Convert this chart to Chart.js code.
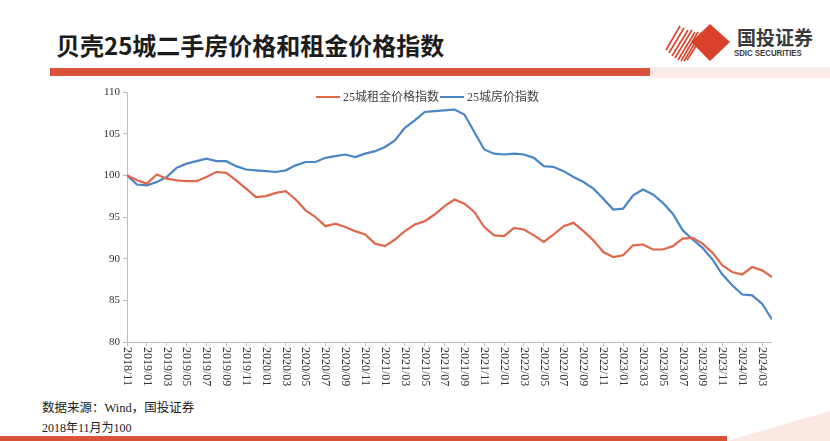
<!DOCTYPE html>
<html lang="zh">
  <head>
    <meta charset="UTF-8" />
    <title>贝壳25城二手房价格和租金价格指数</title>
    <script src="https://cdn.jsdelivr.net/npm/chart.js"></script>
    <style>
      body {
        margin: 0;
        width: 830px;
        height: 441px;
        overflow: hidden;
        background: #fff;
        position: relative;
        font-family: "Liberation Serif", "Noto Sans CJK SC", serif;
      }
      .title {
        position: absolute;
        left: 56px;
        top: 33px;
        font: 700 24px/24px "Noto Sans CJK SC";
        color: #1c1c1c;
        white-space: nowrap;
      }
      .bar {
        position: absolute;
        left: 50px;
        top: 68px;
        width: 600px;
        height: 8px;
        background: #d9533b;
      }
      .bar2 {
        position: absolute;
        left: 650px;
        top: 67px;
        width: 180px;
        height: 11px;
        background: #fbebe6;
      }
      .logo-cn {
        position: absolute;
        left: 737px;
        top: 27px;
        font: 700 19px/20px "Noto Sans CJK SC";
        color: #3a3a3a;
        letter-spacing: 0px;
      }
      .logo-en {
        position: absolute;
        left: 734px;
        top: 48px;
        font: 700 8.5px/10px "Liberation Sans Narrow", "Liberation Sans", sans-serif;
        color: #3a3a3a;
        transform: scaleX(0.92);
        transform-origin: left;
        white-space: nowrap;
      }
      .chart-box {
        position: absolute;
        left: 60px;
        top: 82px;
        width: 712px;
        height: 315px;
      }
      .legend {
        position: absolute;
        top: 89px;
        font-size: 12px;
        line-height: 16px;
        color: #404040;
        white-space: nowrap;
      }
      .legend i {
        display: inline-block;
        width: 24px;
        height: 2px;
        vertical-align: middle;
        margin-right: 3px;
        position: relative;
        top: -1px;
      }
      .note {
        position: absolute;
        left: 42px;
        font-size: 12px;
        line-height: 16px;
        color: #222;
        white-space: nowrap;
      }
      .foot {
        position: absolute;
        left: 0;
        top: 436px;
        width: 727px;
        height: 5px;
        background: #d9533b;
      }
    </style>
  </head>
  <body>
    <div class="title">贝壳25城二手房价格和租金价格指数</div>
    <div class="bar"></div>
    <div class="bar2"></div>

    <svg style="position: absolute; left: 660px; top: 20px" width="75" height="44">
      <g stroke="#d9412b" stroke-width="1.6">
        <line x1="6" y1="30" x2="20" y2="6" />
        <line x1="9" y1="33" x2="24" y2="8" />
        <line x1="12" y1="36" x2="28" y2="10" />
        <line x1="15" y1="38" x2="32" y2="10" />
        <line x1="18" y1="40" x2="35" y2="12" />
        <line x1="21" y1="41" x2="38" y2="12" />
        <line x1="24" y1="41" x2="41" y2="13" />
        <line x1="27" y1="40" x2="43" y2="15" />
      </g>
      <polygon points="50,4 70,22 50,41 31,22" fill="#d9412b" />
    </svg>
    <div class="logo-cn">国投证券</div>
    <div class="logo-en">SDIC SECURITIES</div>

    <div class="chart-box"><canvas id="myChart"></canvas></div>

    <div class="legend" style="left: 316px"><i style="background: #e0674a"></i>25城租金价格指数</div>
    <div class="legend" style="left: 440px"><i style="background: #4a85c8"></i>25城房价指数</div>

    <div class="note" style="top: 400px; font-size: 12.5px">数据来源：Wind，国投证券</div>
    <div class="note" style="top: 420px">2018年11月为100</div>

    <div class="foot"></div>
    <svg style="position: absolute; left: 700px; top: 405px" width="130" height="36">
      <polygon points="27,36 130,6 130,36" fill="#fbe8e2" />
    </svg>

    <script>
      // 2018/11 ~ 2024/04 月度
      const tickLabels = [
        "2018/11", "2019/01", "2019/03", "2019/05", "2019/07", "2019/09", "2019/11",
        "2020/01", "2020/03", "2020/05", "2020/07", "2020/09", "2020/11",
        "2021/01", "2021/03", "2021/05", "2021/07", "2021/09", "2021/11",
        "2022/01", "2022/03", "2022/05", "2022/07", "2022/09", "2022/11",
        "2023/01", "2023/03", "2023/05", "2023/07", "2023/09", "2023/11",
        "2024/01", "2024/03",
      ];
      // 25城租金价格指数
      const rentIndex = [
        100.0, 99.4, 99.0, 100.1, 99.6, 99.4, 99.3, 99.3, 99.8, 100.4, 100.3, 99.4,
        98.4, 97.4, 97.5, 97.9, 98.1, 97.1, 95.8, 95.0, 93.9, 94.2, 93.8, 93.3,
        92.9, 91.8, 91.5, 92.3, 93.3, 94.1, 94.5, 95.3, 96.3, 97.1, 96.6, 95.6,
        93.8, 92.8, 92.7, 93.7, 93.5, 92.8, 92.0, 92.9, 93.9, 94.3, 93.3, 92.2,
        90.8, 90.2, 90.4, 91.6, 91.7, 91.1, 91.1, 91.5, 92.4, 92.5, 91.8, 90.7,
        89.2, 88.4, 88.1, 89.0, 88.6, 87.8,
      ];
      // 25城房价指数
      const houseIndex = [
        100.0, 98.9, 98.8, 99.2, 99.8, 100.9, 101.4, 101.7, 102.0, 101.7, 101.7, 101.1,
        100.7, 100.6, 100.5, 100.4, 100.6, 101.2, 101.6, 101.6, 102.1, 102.3, 102.5, 102.2,
        102.6, 102.9, 103.4, 104.2, 105.7, 106.6, 107.6, 107.7, 107.8, 107.9, 107.3, 105.2,
        103.1, 102.6, 102.5, 102.6, 102.5, 102.1, 101.1, 101.0, 100.5, 99.8, 99.2, 98.4,
        97.2, 95.9, 96.0, 97.6, 98.3, 97.7, 96.7, 95.4, 93.4, 92.3, 91.3, 89.9,
        88.1, 86.8, 85.7, 85.6, 84.6, 82.7,
      ];

      const axisColor = "#bfbfbf";

      // x轴标签顺时针旋转（从上往下读）
      const xLabels = {
        id: "xLabels",
        afterDraw(chart) {
          const sx = chart.scales.x;
          const ctx = chart.ctx;
          ctx.save();
          ctx.font = '12px "Liberation Serif"';
          ctx.fillStyle = "#333";
          ctx.textAlign = "left";
          ctx.textBaseline = "middle";
          tickLabels.forEach(function (t, k) {
            const x = sx.getPixelForValue(k * 2);
            ctx.save();
            ctx.translate(x, sx.top + 5);
            ctx.rotate(Math.PI / 2);
            ctx.fillText(t, 0, 0);
            ctx.restore();
          });
          ctx.restore();
        },
      };

      const toPoints = function (arr) {
        return arr.map(function (v, i) {
          return { x: i, y: v };
        });
      };

      new Chart(document.querySelector("#myChart"), {
        type: "line",
        data: {
          datasets: [
            {
              label: "25城租金价格指数",
              data: toPoints(rentIndex),
              borderColor: "#e0674a",
              borderWidth: 2.2,
              pointRadius: 0,
              tension: 0,
            },
            {
              label: "25城房价指数",
              data: toPoints(houseIndex),
              borderColor: "#4a85c8",
              borderWidth: 2.2,
              pointRadius: 0,
              tension: 0,
            },
          ],
        },
        options: {
          responsive: true,
          maintainAspectRatio: false,
          animation: false,
          layout: { padding: { top: 10, left: 0, right: 0, bottom: 0 } },
          plugins: { legend: { display: false }, tooltip: { enabled: false } },
          scales: {
            x: {
              type: "linear",
              min: 0,
              max: rentIndex.length - 1,
              ticks: { display: false, stepSize: 2, includeBounds: false },
              grid: { drawOnChartArea: false, color: axisColor, tickLength: 4 },
              border: { color: axisColor },
              afterFit: function (s) {
                s.height = 55;
              },
            },
            y: {
              min: 80,
              max: 110,
              ticks: {
                stepSize: 5,
                padding: 3,
                color: "#333",
                font: { family: "Liberation Serif", size: 11 },
              },
              grid: { drawOnChartArea: false, color: axisColor, tickLength: 4 },
              border: { color: axisColor },
              afterFit: function (s) {
                s.width = 67;
              },
            },
          },
        },
        plugins: [xLabels],
      });
    </script>
  </body>
</html>
